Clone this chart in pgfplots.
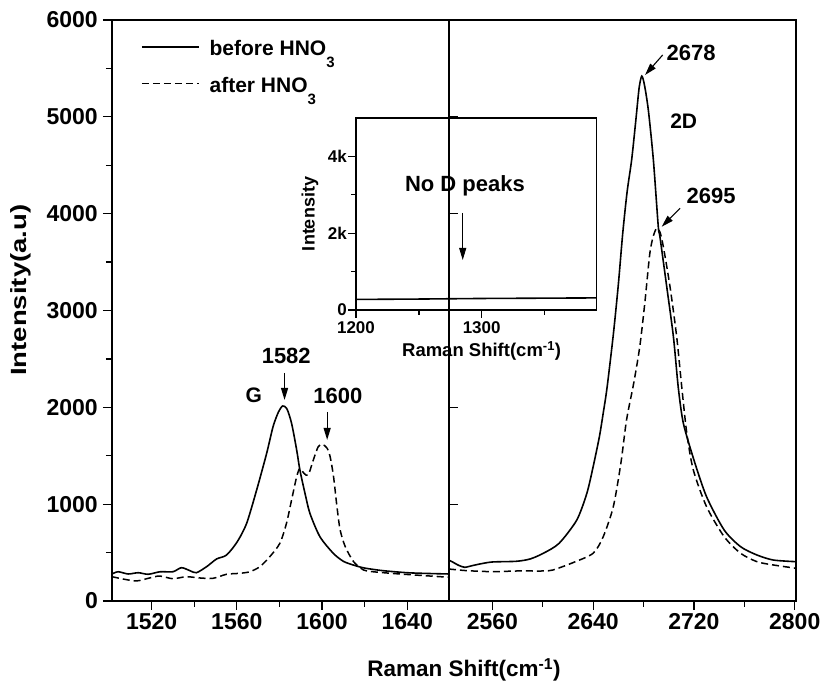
\documentclass[border=0pt]{standalone}
\usepackage{fontspec}
\setmainfont{Liberation Sans}
\newfontfamily\widefont{Liberation Sans}[FakeStretch=1.25]
\usepackage{pgfplots}
\pgfplotsset{compat=1.18}
\usetikzlibrary{arrows.meta}
\newcommand{\fs}[1]{\fontsize{#1}{#1}\selectfont\bfseries}
\newcommand{\sub}{\raisebox{-12pt}{\fontsize{15}{15}\selectfont 3}}
\pgfplotsset{
  common/.style={
    scale only axis, anchor=south west,
    axis line style={line width=1.5pt},
    every tick/.append style={line width=1.3pt, black},
    tick align=outside, tick pos=left,
    /pgf/number format/assume math mode=true,
  },
  before/.style={black, line width=1.6pt, smooth, tension=0.45},
  after/.style={black, line width=1.5pt, dash pattern=on 7pt off 4pt, smooth, tension=0.45},
}
\begin{document}
\begin{tikzpicture}[x=1pt,y=1pt]
\useasboundingbox (0,0) rectangle (821,692);
% ---------------- left panel ----------------
\begin{axis}[common, at={(112pt,91pt)}, width=337pt, height=581pt,
 xmin=1501.4, xmax=1659.6, ymin=0, ymax=6000,
 xtick={1520,1560,1600,1640}, xticklabels={1520,1560,1600,1640},
 minor xtick={1500,1540,1580,1620,1660},
 ytick={0,1000,2000,3000,4000,5000,6000}, yticklabels={0,1000,2000,3000,4000,5000,6000},
 minor ytick={500,1500,2500,3500,4500,5500},
 major tick length=9pt, minor tick length=6pt,
 ticklabel style={font=\fs{23}},
 yticklabel style={inner sep=5pt},
 xlabel={Raman Shift(cm\textsuperscript{-1})},
 xlabel style={font=\fs{22.5}, at={(rel axis cs:1.0445,-0.1308)}, anchor=base},
 ylabel={Intensity(a.u)},
 ylabel style={font=\widefont\fs{22}, at={(rel axis cs:-0.27,0.535)}, anchor=center},
 legend style={at={(rel axis cs:0.0861,0.9673)}, anchor=north west, draw=none, fill=none,
   inner sep=0pt, outer sep=0pt, row sep=6.7pt, font=\fs{21},
   nodes={inner sep=0pt, text height=17pt, text depth=13pt},
   /tikz/every odd column/.append style={column sep=10pt}},
 legend cell align=left,
 legend image code/.code={\draw[#1] (0pt,7pt) -- (57pt,7pt);},
]
\addplot[before] coordinates {
(1501.4,279)(1504.3,302)(1509,279)(1513.7,292)(1518.4,276)(1524,302)(1530,302)(1534,344)(1538,313)(1541,292)
(1545.8,354)(1550.5,434)(1555.2,475)(1560.2,612)(1564.6,802)(1569.3,1146)(1574,1525)(1577,1800)(1579.5,1950)
(1581.5,2014)(1583.5,1985)(1585.7,1835)(1588.1,1559)(1589.6,1353)(1592,1112)(1594.3,906)(1599,664)(1605.3,492)
(1610,410)(1614.6,372)(1620,340)(1628.7,313)(1640,292)(1650,284)(1659.6,279)};
\addlegendentry{before HNO\sub}
\addplot[after] coordinates {
(1501.4,251)(1506.6,227)(1512.9,207)(1519.1,238)(1523.8,258)(1530,230)(1536.3,251)(1542.5,238)(1548.8,234)
(1555.2,276)(1561.4,286)(1566.1,302)(1570.8,354)(1575.5,458)(1580.2,596)(1583.3,802)(1585.7,1043)(1588.1,1284)
(1589.6,1370)(1591.5,1319)(1593.5,1301)(1595.9,1456)(1598.2,1593)(1600.2,1618)(1602.4,1577)(1603.8,1490)
(1605.4,1284)(1607,974)(1608.5,733)(1610.9,561)(1614.8,406)(1619.5,320)(1624,302)(1636.5,279)(1659.6,245)};
\addlegendentry{after HNO\sub}
\node[font=\fs{22}] at (axis cs:1583.2,2535) {1582};
\draw[-{Triangle[length=12pt,width=7pt]}, line width=1.1pt] (axis cs:1582.4,2355) -- (axis cs:1582.4,2076);
\node[font=\fs{21}] at (axis cs:1568.0,2127) {G};
\node[font=\fs{22}] at (axis cs:1607.4,2117) {1600};
\draw[-{Triangle[length=12pt,width=7pt]}, line width=1.1pt] (axis cs:1602.4,1952) -- (axis cs:1602.4,1663);
\end{axis}
% ---------------- right panel ----------------
\begin{axis}[common, at={(449pt,91pt)}, width=347pt, height=581pt,
 xmin=2525.6, xmax=2801, ymin=0, ymax=6000,
 xtick={2560,2640,2720,2800}, xticklabels={2560,2640,2720,2800},
 minor xtick={2600,2680,2760},
 ytick={0,1000,2000,3000,4000,5000,6000}, yticklabels={}, ytick align=inside,
 major tick length=9pt, minor tick length=6pt,
 ticklabel style={font=\fs{23}},
]
\addplot[before] coordinates {
(2525.6,420)(2528,406)(2533,370)(2538,348)(2544,365)(2550,382)(2560,403)(2579,410)(2590,434)(2600.5,493)
(2613,596)(2627,836)(2635,1112)(2640,1387)(2645,1700)(2648,1941)(2651,2200)(2656,2750)(2660,3270)(2663.5,3800)
(2667,4230)(2670.6,4560)(2674,4980)(2676.5,5300)(2678.6,5420)(2680.7,5330)(2683.8,5070)(2687.8,4554)(2691.7,3865)
(2693,3762)(2698.4,3246)(2703.7,2729)(2707.6,2200)(2711.6,1835)(2720,1456)(2730,1077)(2744,733)(2757,561)
(2770,475)(2783,423)(2801,406)};
\addplot[after] coordinates {
(2525.6,330)(2528,327)(2540,313)(2560,303)(2580,310)(2600,310)(2608,320)(2624,396)(2640,493)(2648,664)
(2656,974)(2662,1422)(2666.5,1869)(2672.2,2250)(2677,2626)(2681,3077)(2685,3591)(2688,3780)(2690.5,3849)
(2693,3811)(2695.7,3659)(2701,3246)(2706.3,2729)(2710.3,2213)(2714.3,1735)(2719.5,1353)(2730,974)(2744,664)
(2757,493)(2770,406)(2783,372)(2801,338)};
\node[font=\fs{22}] at (axis cs:2717.7,5659) {2678};
\draw[-{Triangle[length=12pt,width=7pt]}, line width=1.1pt] (axis cs:2695.2,5639) -- (axis cs:2681.2,5432);
\node[font=\fs{21}] at (axis cs:2711.9,4957) {2D};
\node[font=\fs{22}] at (axis cs:2733.6,4182) {2695};
\draw[-{Triangle[length=12pt,width=7pt]}, line width=1.1pt] (axis cs:2709,4055) -- (axis cs:2694.4,3865);
\end{axis}
% ---------------- inset ----------------
\begin{axis}[common, at={(356pt,382pt)}, width=240.7pt, height=192pt,
 xmin=1200, xmax=1391.5, ymin=0, ymax=5000,
 axis line style={line width=1.2pt},
 xtick={1200,1300}, xticklabels={1200,1300}, minor xtick={1250,1350},
 ytick={0,2000,4000}, yticklabels={0,2k,4k}, minor ytick={1000,3000},
 major tick length=8pt, minor tick length=5pt,
 ticklabel style={font=\fs{17}},
 yticklabel style={inner sep=1pt},
 xlabel={Raman Shift(cm\textsuperscript{-1})},
 xlabel style={font=\fs{18.5}, at={(rel axis cs:0.522,-0.243)}, anchor=base},
 ylabel={Intensity},
 ylabel style={font=\fs{18}, at={(rel axis cs:-0.191,0.5)}, anchor=center},
]
\addplot[black, line width=1.6pt] coordinates {(1200,275)(1250,285)(1300,300)(1391.5,315)};
\node[font=\fs{22}] at (axis cs:1286.7,3229) {No D peaks};
\draw[-{Triangle[length=12pt,width=7pt]}, line width=0.9pt] (axis cs:1284.9,2526) -- (axis cs:1284.9,1302);
\end{axis}
\end{tikzpicture}
\end{document}
